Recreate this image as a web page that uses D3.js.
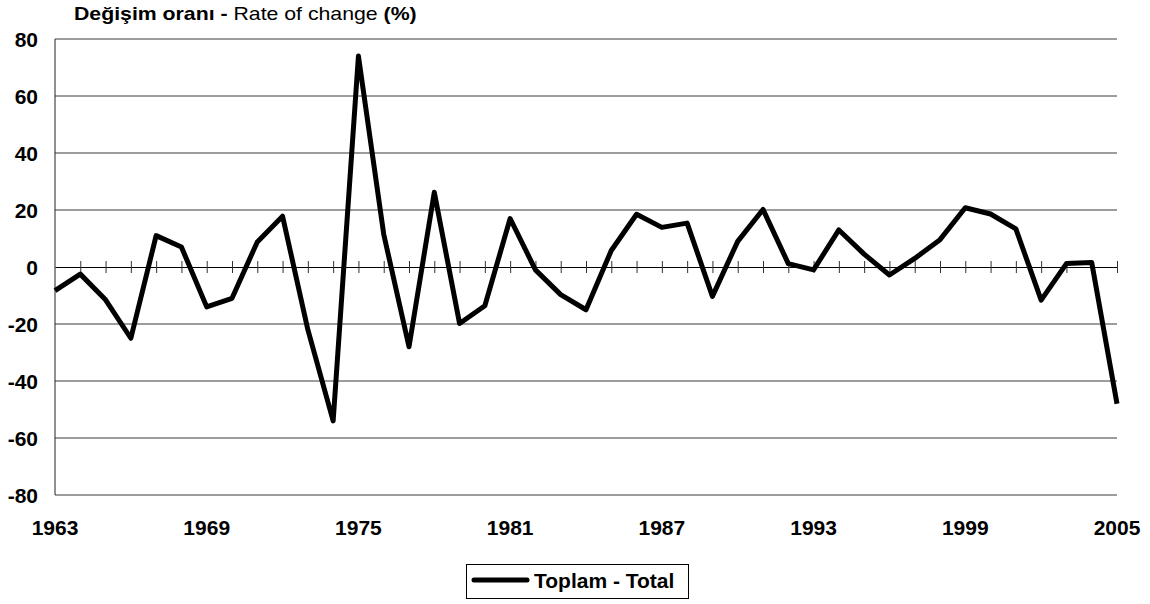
<!DOCTYPE html>
<html>
<head>
<meta charset="utf-8">
<script src="https://cdn.jsdelivr.net/npm/d3@7"></script>
<style>
    body { margin: 0; background: #fff; }
    svg { font-family: Arial, "Liberation Sans", sans-serif; }
</style>
</head>
<body>
<svg></svg>
<script>
const width = 1150;
const height = 604;
const margin = { top: 39, right: 33, bottom: 109, left: 55 };

// data
const years = d3.range(1963, 2006);
const totalChange = [
    -8.3, -2.5, -11.5, -25, 11, 7, -14, -11, 8.8, 17.8,
    -22, -54, 74, 11.5, -28, 26.2, -19.8, -13.6, 17, -1,
    -9.7, -15, 5.8, 18.5, 13.9, 15.4, -10.3, 9, 20.2, 1.2,
    -1, 13, 4.5, -2.8, 3, 9.6, 20.8, 18.6, 13.4, -11.6,
    1.2, 1.6, -48,
];
const yTicks = [80, 60, 40, 20, 0, -20, -40, -60, -80];
const xLabelYears = [1963, 1969, 1975, 1981, 1987, 1993, 1999, 2005];

const svg = d3.select("svg").attr("width", width).attr("height", height);

const x = d3.scaleLinear()
    .domain([1963, 2005])
    .range([margin.left, width - margin.right]);
const y = d3.scaleLinear()
    .domain([-80, 80])
    .range([height - margin.bottom, margin.top]);

// grid lines
svg.append("g")
    .selectAll("line")
    .data(yTicks.filter((d) => d !== 0))
    .join("line")
    .attr("x1", margin.left)
    .attr("x2", width - margin.right)
    .attr("y1", (d) => y(d))
    .attr("y2", (d) => y(d))
    .attr("stroke", "#3a3a3a")
    .attr("stroke-width", 1);

// left axis line
svg.append("line")
    .attr("x1", margin.left)
    .attr("x2", margin.left)
    .attr("y1", y(80))
    .attr("y2", y(-80))
    .attr("stroke", "#222")
    .attr("stroke-width", 1);

// y labels
svg.append("g")
    .selectAll("text")
    .data(yTicks)
    .join("text")
    .attr("x", 38)
    .attr("y", (d) => y(d))
    .attr("dy", "0.36em")
    .attr("text-anchor", "end")
    .attr("font-size", 21)
    .attr("font-weight", "bold")
    .text((d) => d);

// zero axis with ticks
const xAxis = d3.axisBottom(x)
    .tickValues(years.slice(1))
    .tickSizeInner(0)
    .tickSizeOuter(0)
    .tickFormat("");
const zeroAxis = svg.append("g")
    .attr("transform", `translate(0, ${y(0)})`)
    .call(xAxis);
zeroAxis.select(".domain").attr("stroke", "#000");
zeroAxis.selectAll(".tick line")
    .attr("y1", -6)
    .attr("y2", 6)
    .attr("stroke", "#333");

// x labels
svg.append("g")
    .selectAll("text")
    .data(xLabelYears)
    .join("text")
    .attr("x", (d) => x(d))
    .attr("y", 535)
    .attr("text-anchor", "middle")
    .attr("font-size", 21)
    .attr("font-weight", "bold")
    .text((d) => d);

// the line
const line = d3.line()
    .x((d, i) => x(years[i]))
    .y((d) => y(d));

svg.append("path")
    .datum(totalChange)
    .attr("d", line)
    .attr("fill", "none")
    .attr("stroke", "#000")
    .attr("stroke-width", 5)
    .attr("stroke-linejoin", "round");

// title (a bit wider than tall in the original, so stretch it to fit)
const title = svg.append("text")
    .attr("font-size", 18);
title.append("tspan").attr("font-weight", "bold").text("Değişim oranı - ");
title.append("tspan").text("Rate of change ");
title.append("tspan").attr("font-weight", "bold").text("(%)");
const tw = title.node().getComputedTextLength();
title.attr("transform", `translate(74, 20) scale(${343 / tw}, 1)`);

// legend
const legend = svg.append("g");
legend.append("rect")
    .attr("x", 466.5)
    .attr("y", 564.5)
    .attr("width", 222)
    .attr("height", 34)
    .attr("fill", "#fff")
    .attr("stroke", "#000")
    .attr("stroke-width", 1);
legend.append("line")
    .attr("x1", 474)
    .attr("x2", 527)
    .attr("y1", 580)
    .attr("y2", 580)
    .attr("stroke", "#000")
    .attr("stroke-width", 5)
    .attr("stroke-linecap", "round");
legend.append("text")
    .attr("x", 534)
    .attr("y", 588)
    .attr("font-size", 21)
    .attr("font-weight", "bold")
    .text("Toplam - Total");
</script>
</body>
</html>
